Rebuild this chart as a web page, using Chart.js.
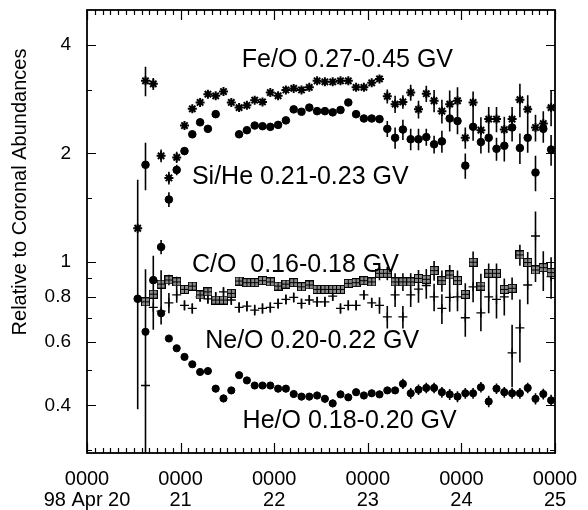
<!DOCTYPE html>
<html>
<head>
<meta charset="utf-8">
<script src="https://cdn.jsdelivr.net/npm/chart.js@4.4.0/dist/chart.umd.min.js"></script>
<style>
  html, body { margin: 0; padding: 0; background: #fff; }
</style>
</head>
<body>
<canvas id="ratios" width="588" height="510"></canvas>
<script>
// 2-hour averages, centre of each bin in hours after 1998 Apr 20 0000
const hours = [
  13, 15, 17, 19, 21, 23,
  25, 27, 29, 31, 33, 35, 37, 39, 41, 43, 45, 47,
  49, 51, 53, 55, 57, 59, 61, 63, 65, 67, 69, 71,
  73, 75, 77, 79, 81, 83, 85, 87, 89, 91, 93, 95,
  97, 99, 101, 103, 105, 107, 109, 111, 113, 115, 117, 119
];

const feO = [
  1.24, 3.18, 3.12, 1.97, 1.71, 1.95,
  2.39, 2.66, 2.77, 2.92, 2.89, 2.97, 2.77, 2.68, 2.72, 2.81, 2.78, 2.95,
  2.89, 3.00, 3.03, 3.00, 3.05, 3.18, 3.16, 3.16, 3.18, 3.18, 3.05, 3.05,
  3.14, 3.22, 2.88, 2.74, 2.78, 2.95, 2.65, 2.93, 2.80, 2.62, 2.74, 2.80,
  2.21, 2.77, 2.32, 2.49, 2.49, 2.33, 2.49, 2.82, 2.65, 2.36, 2.42, 2.68
];
const feOErr = [
  0.45, 0.30, 0.12, 0.08, 0.07, 0.07,
  0.05, 0.05, 0.05, 0.05, 0.05, 0.05, 0.05, 0.05, 0.05, 0.05, 0.05, 0.05,
  0.05, 0.05, 0.05, 0.05, 0.05, 0.05, 0.05, 0.05, 0.05, 0.05, 0.05, 0.05,
  0.05, 0.05, 0.13, 0.15, 0.12, 0.15, 0.15, 0.15, 0.20, 0.20, 0.25, 0.25,
  0.15, 0.20, 0.20, 0.20, 0.20, 0.20, 0.20, 0.30, 0.25, 0.20, 0.20, 0.30
];

const siHe = [
  0.79, 1.86, 0.89, 1.10, 1.49, 1.80,
  2.03, 2.26, 2.44, 2.34, 2.57, null, null, 2.26, 2.32, 2.39, 2.38, 2.37,
  2.40, 2.47, 2.65, 2.61, 2.68, 2.62, 2.62, 2.60, 2.64, 2.77, 2.57, 2.50,
  2.50, 2.49, 2.34, 2.21, 2.33, 2.19, 2.19, 2.22, 2.12, 2.16, 2.50, 2.46,
  1.85, 2.37, 2.15, 2.21, 2.06, 2.10, 2.36, 2.07, 2.21, 1.77, 2.34, 2.05
];
const siHeErr = [
  0.40, 0.28, 0.15, 0.05, 0.07, 0.06,
  0.05, 0.05, 0.05, 0.05, 0.05, 0.05, 0.05, 0.05, 0.05, 0.05, 0.05, 0.05,
  0.05, 0.05, 0.05, 0.05, 0.05, 0.05, 0.05, 0.05, 0.05, 0.05, 0.05, 0.05,
  0.05, 0.05, 0.12, 0.15, 0.15, 0.15, 0.15, 0.12, 0.12, 0.15, 0.20, 0.20,
  0.15, 0.20, 0.15, 0.20, 0.15, 0.20, 0.20, 0.20, 0.20, 0.20, 0.20, 0.20
];

const cO = [
  null, 0.775, 0.814, 0.868, 0.891, 0.880,
  0.839, 0.857, 0.810, 0.826, 0.784, 0.784, 0.818, 0.885, 0.876, 0.876, 0.887, 0.880,
  0.857, 0.868, 0.876, 0.853, 0.863, 0.839, 0.839, 0.839, 0.839, 0.872, 0.876, 0.887,
  0.880, 0.930, 0.930, 0.880, 0.880, 0.880, 0.900, 0.895, 0.946, 0.887, 0.920, 0.887,
  0.813, 0.998, 0.857, 0.930, 0.930, 0.839, 0.845, 1.046, 0.996, 0.950, 0.964, 0.934
];
const cOErr = [
  null, 0.08, 0.10, 0.08, 0.03, 0.03,
  0.02, 0.02, 0.02, 0.02, 0.02, 0.02, 0.02, 0.02, 0.02, 0.02, 0.02, 0.02,
  0.02, 0.02, 0.02, 0.02, 0.02, 0.02, 0.02, 0.02, 0.02, 0.02, 0.02, 0.02,
  0.02, 0.04, 0.04, 0.05, 0.05, 0.05, 0.05, 0.06, 0.06, 0.06, 0.06, 0.06,
  0.06, 0.07, 0.07, 0.06, 0.06, 0.06, 0.06, 0.07, 0.07, 0.07, 0.07, 0.07
];

const neO = [
  null, 0.454, 0.748, 0.730, 0.770, 0.810,
  0.758, 0.743, 0.800, 0.790, 0.800, 0.826, 0.784, 0.748, 0.754, 0.735, 0.743, 0.748,
  0.767, 0.787, 0.797, 0.767, 0.784, 0.775, 0.775, 0.804, 0.743, 0.758, 0.758, 0.810,
  0.770, 0.758, 0.704, 0.810, 0.704, 0.810, 0.840, 0.860, 0.800, 0.743, 0.797, 0.800,
  0.700, 0.853, 0.722, 0.800, 0.787, 0.800, 0.559, 0.656, 0.863, 1.180, 0.950, 0.910
];
const neOErr = [
  null, 0.50, 0.10, 0.06, 0.05, 0.04,
  0.025, 0.025, 0.025, 0.025, 0.025, 0.025, 0.025, 0.025, 0.025, 0.025, 0.025, 0.025,
  0.025, 0.025, 0.025, 0.025, 0.025, 0.025, 0.025, 0.025, 0.025, 0.025, 0.025, 0.025,
  0.025, 0.04, 0.05, 0.06, 0.05, 0.06, 0.07, 0.07, 0.07, 0.07, 0.07, 0.07,
  0.08, 0.08, 0.08, 0.08, 0.09, 0.09, 0.11, 0.13, 0.10, 0.20, 0.12, 0.12
];

const heO = [
  null, 0.640, null, 0.720, 0.613, 0.576,
  0.545, 0.520, 0.495, 0.498, 0.445, 0.418, 0.440, 0.485, 0.469, 0.454, 0.454, 0.454,
  0.445, 0.445, 0.430, 0.423, 0.423, 0.426, 0.417, 0.405, 0.429, 0.421, 0.435, 0.426,
  0.432, 0.429, 0.440, 0.440, 0.459, 0.432, 0.442, 0.447, 0.447, 0.435, 0.429, 0.423,
  0.432, 0.432, 0.449, 0.410, 0.445, 0.435, 0.432, 0.432, 0.447, 0.417, 0.430, 0.413
];
const heOErr = [
  null, 0.10, null, 0.02, 0.01, 0.01,
  0.01, 0.01, 0.01, 0.01, 0.01, 0.01, 0.01, 0.01, 0.01, 0.01, 0.01, 0.01,
  0.01, 0.01, 0.01, 0.01, 0.01, 0.01, 0.01, 0.01, 0.01, 0.01, 0.01, 0.01,
  0.01, 0.01, 0.01, 0.01, 0.015, 0.015, 0.015, 0.015, 0.015, 0.015, 0.015, 0.015,
  0.015, 0.015, 0.015, 0.015, 0.015, 0.015, 0.015, 0.015, 0.015, 0.015, 0.015, 0.015
];

const ratioNames = ['Fe/O 0.27-0.45 GV', 'Si/He 0.21-0.23 GV', 'C/O  0.16-0.18 GV', 'Ne/O 0.20-0.22 GV', 'He/O 0.18-0.20 GV'];

// axis ticks
const dayTicks = [0, 24, 48, 72, 96, 120];
const dayLabels = [['0000', '98 Apr 20'], ['0000', '21'], ['0000', '22'], ['0000', '23'], ['0000', '24'], ['0000', '25']];
const yTicks = [0.4, 0.6, 0.8, 1, 2, 4];
const yMinorTicks = [0.3, 0.5, 0.7, 0.9, 1.5, 3];
const minorStepHours = 2;

const FONT = "'Liberation Sans', Arial, Helvetica, sans-serif";

// where each ratio name sits, in data units (hours, ratio at the baseline)
const nameAnchors = [
  { h: 39.7, v: 3.47 },
  { h: 26.9, v: 1.64 },
  { h: 26.9, v: 0.938 },
  { h: 30.3, v: 0.576 },
  { h: 39.9, v: 0.345 }
];

// square with a cross through it, for C/O
function boxedPlus(size) {
  const c = document.createElement('canvas');
  c.width = c.height = size;
  const g = c.getContext('2d');
  g.fillStyle = '#000';
  g.fillRect(0, 0, size, size);
  g.fillStyle = '#8a8a8a';
  const q = (size - 3) / 2;
  g.fillRect(1, 1, q, q);
  g.fillRect(size - 1 - q, 1, q, q);
  g.fillRect(1, size - 1 - q, q, q);
  g.fillRect(size - 1 - q, size - 1 - q, q, q);
  return c;
}

function toPoints(vals) {
  const pts = [];
  vals.forEach((v, i) => { if (v !== null) pts.push({ x: hours[i], y: v }); });
  return pts;
}

const series = [
  { vals: feO, err: feOErr, style: 'star', radius: 4.5, border: 2 },
  { vals: siHe, err: siHeErr, style: 'circle', radius: 3.8, border: 1 },
  { vals: cO, err: cOErr, style: boxedPlus(9), radius: 4.5, border: 1 },
  { vals: neO, err: neOErr, style: 'cross', radius: 4.5, border: 1.3 },
  { vals: heO, err: heOErr, style: 'circle', radius: 3.6, border: 1 }
];

// vertical error bars under the markers
const errorBars = {
  id: 'errorBars',
  beforeDatasetsDraw(chart) {
    const { ctx, chartArea: a, scales: { x, y } } = chart;
    ctx.save();
    ctx.beginPath();
    ctx.rect(a.left, a.top, a.right - a.left, a.bottom - a.top);
    ctx.clip();
    ctx.strokeStyle = '#000';
    ctx.lineWidth = 1.6;
    ctx.beginPath();
    series.forEach(s => {
      s.vals.forEach((v, i) => {
        if (v === null || s.err[i] === null) return;
        const lo = Math.max(v - s.err[i], y.min * 0.9);
        const hi = v + s.err[i];
        const px = x.getPixelForValue(hours[i]);
        ctx.moveTo(px, y.getPixelForValue(lo));
        ctx.lineTo(px, y.getPixelForValue(hi));
      });
    });
    ctx.stroke();
    ctx.restore();
  }
};

// closed frame with inward ticks on all four sides, ratio names, y title
const frame = {
  id: 'frame',
  afterDraw(chart) {
    const { ctx, chartArea: a, scales: { x, y } } = chart;
    ctx.save();
    ctx.strokeStyle = '#000';
    ctx.lineWidth = 1.2;
    ctx.beginPath();
    for (let h = 0; h <= 120; h += minorStepHours) {
      const px = Math.round(x.getPixelForValue(h)) + 0.5;
      const len = dayTicks.includes(h) ? 10 : 5;
      ctx.moveTo(px, a.bottom); ctx.lineTo(px, a.bottom - len);
      ctx.moveTo(px, a.top); ctx.lineTo(px, a.top + len);
    }
    yTicks.concat(yMinorTicks).forEach(v => {
      const py = Math.round(y.getPixelForValue(v)) + 0.5;
      const len = yTicks.includes(v) ? 9 : 5;
      ctx.moveTo(a.left, py); ctx.lineTo(a.left + len, py);
      ctx.moveTo(a.right, py); ctx.lineTo(a.right - len, py);
    });
    ctx.stroke();
    ctx.lineWidth = 1.8;
    ctx.strokeRect(a.left, a.top, a.right - a.left, a.bottom - a.top);

    ctx.fillStyle = '#000';
    ctx.font = '25px ' + FONT;
    ctx.textAlign = 'left';
    ctx.textBaseline = 'alphabetic';
    ratioNames.forEach((name, i) => {
      ctx.fillText(name, x.getPixelForValue(nameAnchors[i].h), y.getPixelForValue(nameAnchors[i].v));
    });

    ctx.font = '20px ' + FONT;
    ctx.textAlign = 'center';
    ctx.textBaseline = 'middle';
    ctx.translate(20, 192);
    ctx.rotate(-Math.PI / 2);
    ctx.fillText('Relative to Coronal Abundances', 0, 0);
    ctx.restore();
  }
};

new Chart(document.getElementById('ratios'), {
  type: 'scatter',
  data: {
    datasets: series.map((s, i) => ({
      label: ratioNames[i],
      data: toPoints(s.vals),
      pointStyle: s.style,
      pointRadius: s.radius,
      pointBorderWidth: s.border,
      backgroundColor: '#000',
      borderColor: '#000',
      showLine: false
    }))
  },
  options: {
    responsive: false,
    animation: false,
    layout: { padding: { top: 10, right: 33, left: 0, bottom: 0 } },
    plugins: { legend: { display: false }, tooltip: { enabled: false } },
    scales: {
      x: {
        type: 'linear',
        min: 0,
        max: 120,
        grid: { display: false, drawTicks: false },
        border: { display: false },
        afterBuildTicks: s => { s.ticks = dayTicks.map(v => ({ value: v })); },
        afterFit: s => { s.height = 57; s.paddingLeft = 0; s.paddingRight = 0; },
        ticks: {
          autoSkip: false,
          maxRotation: 0,
          padding: 16,
          color: '#000',
          font: { family: FONT, size: 20, lineHeight: 1.05 },
          callback: (v, i) => dayLabels[i]
        }
      },
      y: {
        type: 'logarithmic',
        min: 0.295,
        max: 5.0,
        grid: { display: false, drawTicks: false },
        border: { display: false },
        afterBuildTicks: s => { s.ticks = yTicks.map(v => ({ value: v })); },
        afterFit: s => { s.width = 87; s.paddingTop = 0; s.paddingBottom = 0; },
        ticks: {
          autoSkip: false,
          padding: 16,
          color: '#000',
          font: { family: FONT, size: 19 },
          callback: v => String(v)
        }
      }
    }
  },
  plugins: [errorBars, frame]
});
</script>
</body>
</html>
